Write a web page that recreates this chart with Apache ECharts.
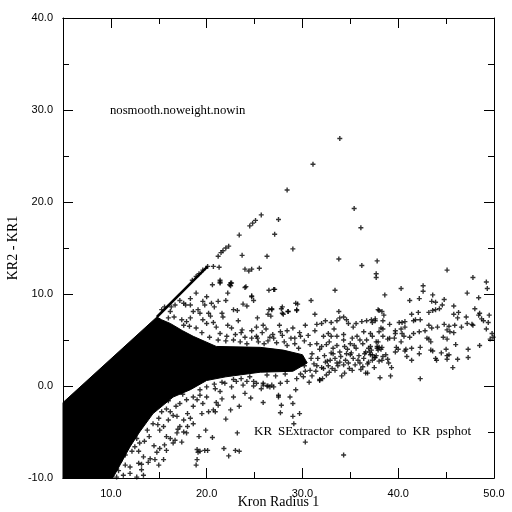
<!DOCTYPE html>
<html>
<head>
<meta charset="utf-8">
<script src="https://cdn.jsdelivr.net/npm/echarts@6/dist/echarts.min.js"></script>
<style>
html,body{margin:0;padding:0;background:#fff;}
#chart{width:512px;height:512px;}
</style>
</head>
<body>
<div id="chart"></div>
<script>
// ---- axis ticks ----
const xMajorTicks = [10, 20, 30, 40];
const xMinorTicks = [15, 25, 35, 45];
const xTickLabels = [10, 20, 30, 40, 50];

// ---- outline of the saturated (solid black) part of the cloud ----
const denseRegion = [
  [5, -1.8], [14.8, 7.5], [15.3, 7.2], [16.2, 6.8], [17.5, 6.0], [18.6, 5.4],
  [21.0, 4.3], [25.6, 4.2], [28.0, 3.9], [30.0, 3.4], [30.5, 2.5], [29.0, 1.6],
  [25.6, 1.5], [22.0, 1.0], [20.0, 0.6], [18.3, -0.4], [16.5, -1.2], [14.4, -3.0],
  [13.0, -5.0], [12.0, -6.6], [11.0, -8.5], [10.2, -10], [5, -10]
];

// ---- tightly packed points along the upper edge ----
const edgeLine = [[14.8, 7.5], [20.1, 13.0]];

// ---- individual points ----
const upperPoints = [
  [33.9,26.9],[31.1,24.1],[28.4,21.3],[35.4,19.3],[36.1,17.2],[25.7,18.6],[25.1,18.0],[24.8,17.7],[24.5,17.4],
  [27.5,18.1],[23.4,16.4],[27.1,16.5],[22.3,15.2],[22.0,15.0],[21.7,14.7],[21.5,14.5],[21.2,14.1],[23.7,14.2],
  [26.3,14.1],[29.0,14.9],[33.8,13.8],[36.2,13.1],[37.8,13.6],[37.7,12.2],[37.7,11.8],[20.1,13.0],[19.6,12.6],
  [19.2,12.2],[18.9,11.9],[18.5,11.5],[20.7,13.0],[21.3,12.9],[24.0,12.7],[24.4,12.5],[24.7,12.7],[25.5,12.8],
  [20.6,11.0],[21.4,11.5],[21.4,11.2],[22.6,11.2],[22.5,10.9],[24.0,10.7],[27.1,10.5]
];
const rightPoints = [
  [45.1,12.6],[47.8,11.8],[49.2,11.3],[49.3,10.6],[40.3,10.6],[42.6,10.9],[42.6,10.3],[38.6,9.9],[43.6,9.9],
  [41.2,9.3],[42.2,9.5],[43.5,9.2],[43.9,9.1],[44.8,9.4],[47.2,10.1],[48.4,9.6],[38.0,8.2],[38.3,8.1],[38.5,7.7],
  [37.3,6.9],[37.6,7.3],[38.4,7.1],[39.1,6.7],[42.1,8.0],[41.4,7.8],[41.8,7.2],[41.6,7.1],[42.3,7.2],[43.2,8.0],
  [43.6,8.2],[43.9,8.3],[44.3,8.4],[44.6,8.8],[45.8,8.7],[45.8,7.8],[46.3,8.0],[46.2,7.4],[47.1,7.5],[47.2,6.8],
  [48.0,8.4],[48.5,7.9],[48.4,7.7],[48.7,7.3],[48.9,7.1],[49.5,7.7],[49.4,6.9],[49.2,6.2],[49.8,5.7],[49.6,5.1],
  [49.9,5.3],[47.7,6.7],[47.8,6.6],[46.6,6.4],[45.9,6.6],[45.3,6.5],[44.8,6.7],[45.1,6.1],[45.4,5.9],[45.8,5.8],
  [44.7,5.3],[45.1,5.1],[44.1,6.4],[43.5,6.3],[43.2,6.6],[42.8,6.0],[42.2,5.9],[41.6,5.7],[43.0,5.2],[43.2,5.1],
  [43.4,4.8],[42.3,4.2],[42.2,3.5],[41.4,4.1],[40.8,4.0],[40.7,3.8],[40.9,3.2],[40.3,4.8],[41.2,5.3],[40.6,5.4],
  [40.4,5.7],[40.7,6.4],[40.4,6.9],[40.7,7.0],[40.1,6.9],[40.3,6.2],[39.7,6.0],[39.7,5.7],[39.1,5.2],[38.9,5.1],
  [39.6,5.2],[38.2,6.3],[38.4,6.2],[38.0,5.9],[38.4,5.4],[37.1,5.7],[37.9,4.8],[37.8,4.3],[37.8,4.1],[38.0,4.2],
  [38.3,4.2],[38.2,4.0],[39.8,4.2],[40.0,4.0],[39.7,3.7],[38.7,3.4],[38.9,2.9],[38.4,3.2],[38.3,2.8],[38.0,2.7],
  [37.5,3.1],[37.7,3.3],[37.3,2.8],[37.1,3.4],[37.3,3.4],[39.0,2.5],[39.3,2.0],[38.1,0.9],[39.2,1.1],[42.3,0.8],
  [41.4,2.8],[43.4,3.9],[43.6,3.8],[43.9,3.0],[44.0,2.8],[44.5,3.6],[45.0,4.0],[45.3,3.4],[45.1,3.3],[45.1,2.9],
  [45.7,2.0],[46.2,2.9],[47.3,4.0],[47.3,3.1],[46.0,4.5],[48.5,4.4]
];
const middlePoints = [
  [26.5,10.4],[27.0,10.5],[33.4,10.4],[24.7,9.7],[24.9,9.3],[30.9,9.3],[29.5,8.9],[29.4,8.2],[27.9,8.6],[28.0,7.8],
  [28.5,8.1],[26.8,8.3],[26.4,7.8],[26.7,7.6],[31.3,7.8],[33.8,8.1],[25.3,7.4],[25.9,6.6],[26.2,6.2],[27.7,5.9],
  [28.4,6.0],[29.0,6.3],[29.8,5.4],[31.5,6.7],[32.0,6.8],[32.4,7.1],[33.0,6.9],[33.6,7.1],[33.9,7.4],[34.3,7.5],
  [34.6,7.2],[34.8,6.8],[35.3,6.4],[35.6,6.8],[36.2,7.0],[36.7,7.1],[37.2,7.2],[37.6,7.1],[37.9,8.3],[32.7,5.7],
  [33.0,5.4],[33.6,5.4],[34.3,5.0],[35.0,4.6],[35.7,5.4],[36.4,5.9],[36.0,5.0],[36.7,5.0],[37.1,4.3],[36.6,3.7],
  [37.7,4.8],[37.9,3.9],[37.6,3.1],[31.5,4.6],[32.0,4.3],[32.5,4.5],[33.2,4.1],[33.9,3.7],[34.4,4.3],[35.0,3.4],
  [35.3,3.0],[35.8,2.8],[36.4,3.0],[36.9,2.6],[32.9,2.8],[33.6,2.5],[34.3,2.3],[34.8,2.5],[32.2,1.9],[32.7,2.2],
  [33.4,1.7],[34.4,1.4],[36.6,1.4],[36.8,1.4],[31.8,0.7],[32.1,0.8],[30.7,0.4],[29.3,-0.4],[28.7,-1.2],[27.5,-1.0],
  [27.5,-1.2],[27.8,-2.1],[29.0,-1.9],[25.9,-1.8],[29.4,0.8],[30.1,1.0],[30.3,1.6],[30.8,1.7],[28.4,0.5],[27.7,0.3],
  [27.0,-0.1],[26.4,0.0],[25.9,0.1],[25.2,0.3],[24.9,0.0],[25.7,-0.3],[26.6,-0.1],
  [30.8,4.5],[31.0,3.5],[31.2,2.4],[31.4,1.6],[31.6,3.0],[31.8,4.0],[32.0,2.0],[32.3,3.3],[32.5,1.2],[32.6,2.7],
  [32.8,4.8],[33.0,3.6],[33.1,1.9],[33.4,3.0],[33.6,4.4],[33.7,2.2],[34.0,3.2],[34.1,1.1],[34.3,5.6],[34.5,2.8],
  [34.7,4.0],[34.9,1.9],[35.1,3.6],[35.2,5.2],[35.5,2.3],[35.6,4.1],[35.9,3.3],[36.1,1.8],[36.3,4.6],[36.5,3.5],
  [36.8,2.4],[37.0,3.7],[37.3,5.4],[37.5,2.0],[30.6,5.5],[31.3,6.0],[32.2,5.4],[33.3,6.2],[29.2,4.6],[29.7,5.8],
  [28.8,5.2],[30.3,6.6],[27.6,6.6],[26.9,5.6],[25.8,5.8],[26.4,4.9],[28.1,4.8],[27.3,4.7],
  [26.5,8.3],[26.8,8.4],[27.8,8.4],[28.5,8.1],[29.3,9.0],[29.4,8.3],[27.9,7.9],
  [26.0,4.6],[27.0,5.2],[28.4,4.4],[29.6,4.1],[30.9,3.0],[31.5,2.2],[32.4,2.6],[33.2,3.5],[34.6,3.5],[35.4,4.4],
  [36.0,2.5],[36.9,4.1],[30.2,2.2],[29.8,1.3],[31.0,1.1],[32.8,1.5],[33.9,2.6],[35.2,1.7],[36.3,2.1],[37.2,3.9],
  [28.2,1.3],[27.2,1.1],[26.3,1.2],[24.5,1.0],[23.6,0.8],[22.8,0.7],[21.6,0.4],[20.8,0.2],[25.3,5.2],[26.6,5.3],
  [27.9,5.5],[29.2,5.2],[30.2,4.9],[24.0,5.3],[23.0,5.6],[22.0,4.9],[21.2,5.0],[20.3,5.3],[19.5,5.8],[18.9,6.3],
  [18.2,6.5],[17.6,6.6],[16.6,7.5],[16.0,7.4]
];
const leftUpperPoints = [
  [21.4,11.3],[22.4,11.0],[22.5,11.2],[24.1,10.8],[18.9,10.1],[20.0,9.7],[22.2,10.1],[22.0,9.3],[24.7,9.8],[18.3,9.5],
  [17.2,9.3],[17.6,9.0],[17.8,8.8],[18.3,8.8],[19.6,9.2],[19.8,8.8],[20.5,9.0],[20.8,8.6],[21.2,9.2],[22.8,8.3],
  [23.2,8.2],[23.8,8.9],[24.2,8.7],[16.7,8.8],[16.3,8.6],[18.6,8.1],[19.1,8.3],[19.3,7.9],[20.2,7.9],[20.4,7.6],
  [21.6,7.9],[21.7,7.5],[23.3,7.1],[22.2,6.6],[22.6,6.3],[23.7,6.1],[23.6,5.8],[24.7,6.0],[25.2,6.4],[24.7,5.2],
  [25.2,5.4],[25.4,4.8],[17.4,7.2],[17.9,7.0],[18.3,7.4],[19.6,7.2],[20.0,6.8],[20.7,6.9],[21.0,6.4],[21.4,5.7],
  [22.1,5.4],[22.8,5.0],[23.5,4.8],[24.2,4.6],[16.2,8.1],[15.6,8.6],[15.3,8.3]
];
const lowerPoints = [
  [30.3,-6.1],[34.3,-7.5],[31.8,0.6],[24.9,0.5],[25.9,0.3],[26.3,0.0],[26.8,0.1],[27.7,-2.9],[29.0,-3.3],[29.7,-3.0],
  [29.1,-4.1],[23.4,-2.2],[22.5,-2.6],[22.0,-3.6],[23.2,-5.1],[19.9,-4.8],[19.2,-5.5],[20.6,-5.6],[19.0,-6.9],[19.1,-7.2],
  [20.1,-7.0],[21.8,-6.8],[22.3,-7.6],[23.0,-7.0],[23.4,-7.1],[18.9,-8.6],[20.7,-2.6],[20.2,-2.8],[20.9,-2.8],[21.0,-1.8],
  [21.2,-2.1],[19.3,-1.0],[20.0,-1.2],[19.0,-1.5],[19.6,-1.9],[18.6,-2.2],[18.0,-3.0],[18.3,-3.5],[18.6,-4.1],[16.9,-3.3],
  [17.6,-3.7],[17.2,-4.4],[17.6,-5.0],[16.9,-5.1],[17.9,-5.1],[16.2,-5.7],[16.7,-5.9],[17.4,-6.1],[15.6,-6.4],[16.5,-6.2],
  [15.1,-6.8],[15.8,-7.0],[14.6,-8.0],[15.5,-8.0],[15.0,-8.6],[14.1,-7.9],[13.9,-8.3],[13.2,-9.1],[13.4,-9.7],[12.7,-9.9],
  [11.3,-9.7],[12.0,-9.5],[14.4,-4.1],[14.9,-4.2],[15.5,-4.4],[15.1,-4.8],[16.2,-2.8],[16.5,-3.2],[16.0,-3.7],[17.2,-1.9],
  [17.9,-1.5],[18.6,-1.2],[19.3,-0.4],[20.0,-0.1],[20.9,-0.3],[21.4,-0.6],[21.9,0.3],[22.6,-0.1],[23.1,0.5],[23.8,0.1],
  [24.2,0.5],[12.3,-5.1],[12.7,-5.7],[13.0,-6.2],[12.5,-6.6],[12.2,-7.1],[12.9,-7.1],[13.4,-7.7],[12.9,-8.4],[11.0,-8.1],
  [11.5,-8.6],[10.3,-8.9],[9.9,-9.5],[10.6,-9.9],[19.0,-8.0],[19.3,-7.1],[19.8,-7.0],
  [11.5,-7.5],[12.0,-8.8],[13.5,-6.0],[14.0,-5.5],[15.0,-3.5],[15.8,-2.5],[16.8,-2.2],[17.5,-0.9],[14.5,-6.5],[13.8,-4.8],
  [11.8,-6.5],[10.8,-9.2],[16.0,-1.6],[15.3,-2.8],
  [13.0,-4.2],[13.6,-3.6],[14.2,-2.4],[15.0,-1.8],[15.6,-1.0],[16.4,-0.4],[17.2,0.0],[12.2,-4.6],[11.6,-5.6],[11.2,-6.8],
  [10.6,-7.8],[10.2,-8.5],[9.6,-9.2],[13.2,-8.5],[14.8,-7.2],[15.8,-5.5],[17.0,-4.7],[18.0,-4.4],[19.5,-3.0],[21.6,-1.4],
  [22.8,-1.2],[24.0,-0.8],[24.6,-1.3]
];

const allPoints = upperPoints.concat(rightPoints, middlePoints, leftUpperPoints, lowerPoints);

const fmt = v => v.toFixed(1);
function lbl() { return { color: '#000', fontFamily: 'Liberation Sans', fontSize: 11 }; }
function ttl() { return { color: '#000', fontFamily: 'Liberation Serif', fontSize: 14 }; }
function blk() { return { color: '#000', width: 1 }; }

function xAxisDef(pos, major, showLabel) {
  const a = {
    type: 'value', min: 5, max: 50, position: pos,
    axisLine: { show: true, onZero: false, lineStyle: blk() },
    axisTick: { show: true, inside: true, length: major ? 10 : 6, customValues: major ? xMajorTicks : xMinorTicks, lineStyle: blk() },
    axisLabel: { show: false },
    splitLine: { show: false }
  };
  if (showLabel) {
    a.axisLabel = Object.assign({ show: true, customValues: xTickLabels, formatter: fmt, margin: 10 }, lbl());
    a.name = 'Kron Radius 1';
    a.nameLocation = 'middle';
    a.nameGap = 17;
    a.nameMoveOverlap = false;
    a.nameTextStyle = ttl();
  }
  return a;
}

function yAxisDef(pos, showLabel) {
  const a = {
    type: 'value', min: -10, max: 40, interval: 10, position: pos,
    axisLine: { show: true, onZero: false, lineStyle: blk() },
    axisTick: { show: true, inside: true, length: 10, lineStyle: blk() },
    minorTick: { show: true, splitNumber: 2, length: 6, lineStyle: blk() },
    axisLabel: { show: false },
    splitLine: { show: false }
  };
  if (showLabel) {
    a.axisLabel = Object.assign({ show: true, formatter: fmt, margin: 10 }, lbl());
    a.name = 'KR2 - KR1';
    a.nameLocation = 'middle';
    a.nameGap = 43;
    a.nameRotate = 90;
    a.nameMoveOverlap = false;
    a.nameTextStyle = ttl();
  }
  return a;
}

const chart = echarts.init(document.getElementById('chart'));
chart.setOption({
  animation: false,
  backgroundColor: '#fff',
  grid: { left: 63, right: 18, top: 18, bottom: 34, outerBoundsMode: 'none' },
  xAxis: [
    xAxisDef('bottom', true, true),
    xAxisDef('bottom', false, false),
    xAxisDef('top', true, false),
    xAxisDef('top', false, false)
  ],
  yAxis: [yAxisDef('left', true), yAxisDef('right', false)],
  graphic: [
    { type: 'text', left: 110, top: 104, style: { text: 'nosmooth.noweight.nowin', font: '12.7px "Liberation Serif"', fill: '#000' } },
    { type: 'text', left: 254, top: 425, style: { text: 'KR \u2009SExtractor \u2009compared \u2009to \u2009KR \u2009psphot', font: '13px "Liberation Serif"', fill: '#000' } }
  ],
  series: [
    {
      type: 'custom', xAxisIndex: 0, yAxisIndex: 0,
      data: [[5, -10]],
      renderItem: function (params, api) {
        return {
          type: 'polygon',
          shape: { points: denseRegion.map(p => api.coord(p)) },
          style: { fill: '#000', stroke: '#000', lineWidth: 1 }
        };
      }
    },
    {
      type: 'line', xAxisIndex: 0, yAxisIndex: 0,
      data: edgeLine, symbol: 'none',
      lineStyle: { color: '#000', width: 2.5 }
    },
    {
      type: 'scatter', xAxisIndex: 0, yAxisIndex: 0,
      data: allPoints,
      symbol: 'path://M1.8,0H3.2V1.8H5V3.2H3.2V5H1.8V3.2H0V1.8H1.8Z',
      symbolSize: 5,
      itemStyle: { color: '#000' }
    }
  ]
});
</script>
</body>
</html>
